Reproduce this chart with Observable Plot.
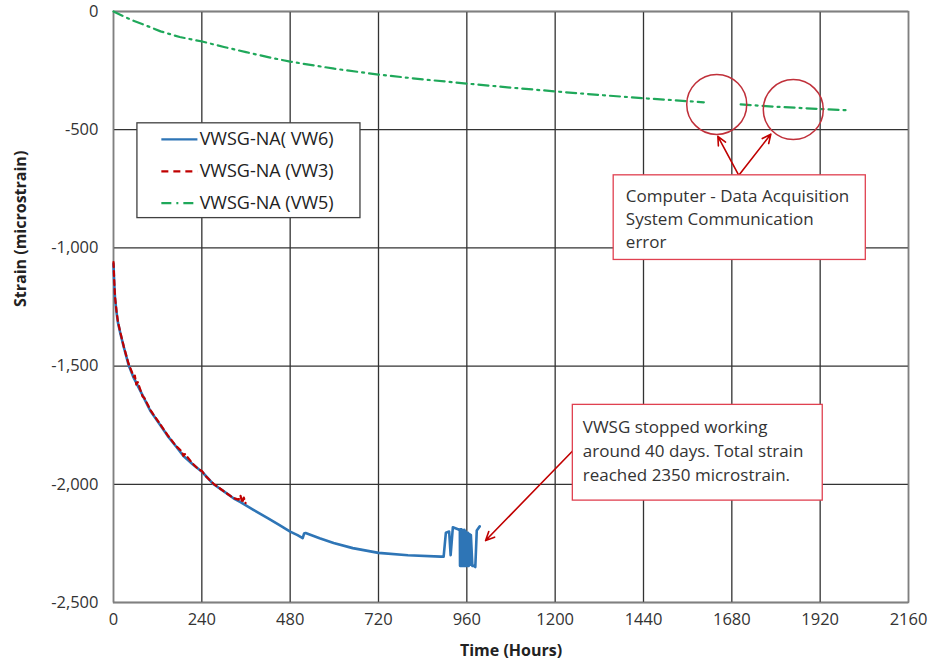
<!DOCTYPE html>
<html>
<head>
<meta charset="utf-8">
<script src="https://cdn.jsdelivr.net/npm/d3@7"></script>
<script src="https://cdn.jsdelivr.net/npm/@observablehq/plot@0.6"></script>
<style>
  html, body { margin: 0; padding: 0; background: #fff; }
  #chart { width: 930px; height: 667px; }
  svg { font-family: "Open Sans", sans-serif; overflow: visible; }
</style>
</head>
<body>
<div id="chart"></div>
<script>
// ---- Data ----
const xTicks = [0, 240, 480, 720, 960, 1200, 1440, 1680, 1920, 2160];
const yTicks = [0, -500, -1000, -1500, -2000, -2500];

const seriesNames = ["VWSG-NA( VW6)", "VWSG-NA (VW3)", "VWSG-NA (VW5)"];

// VW6 (blue, solid)
const vw6Hours = [0, 2, 4, 8, 12, 19, 28, 41, 55, 73, 100, 125, 147, 170, 190, 215, 241, 272, 300, 326, 345, 380, 419, 450, 480, 500, 514, 518, 522, 560, 598, 650, 720, 800, 889, 897, 903, 912, 916, 922, 936, 941, 941.5, 942, 942.5, 943, 943.5, 944, 944.5, 945, 945.5, 946, 946.5, 947, 947.5, 948, 948.5, 949, 949.5, 950, 950.5, 951, 951.5, 952, 952.5, 953, 953.5, 954, 954.5, 955, 955.5, 956, 956.5, 957, 957.5, 958, 958.5, 959, 960, 961, 962, 963, 965, 967, 969, 971, 975, 979, 983, 987, 995];
const vw6Strain = [-1068, -1150, -1210, -1270, -1315, -1364, -1420, -1495, -1550, -1605, -1689, -1745, -1795, -1840, -1880, -1915, -1948, -2000, -2030, -2059, -2075, -2108, -2143, -2172, -2200, -2215, -2228, -2208, -2206, -2228, -2248, -2270, -2290, -2300, -2306, -2306, -2205, -2200, -2300, -2182, -2190, -2195, -2345, -2190, -2345, -2190, -2345, -2192, -2345, -2190, -2345, -2195, -2345, -2192, -2345, -2195, -2345, -2198, -2345, -2200, -2345, -2200, -2345, -2195, -2345, -2192, -2345, -2195, -2345, -2198, -2345, -2200, -2345, -2200, -2345, -2205, -2345, -2205, -2340, -2210, -2345, -2205, -2345, -2210, -2340, -2215, -2345, -2345, -2350, -2195, -2178, -2175];

// VW3 (red, dashed)
const vw3Hours = [0, 2, 4, 8, 12, 19, 28, 41, 55, 58, 62, 66, 73, 79, 84, 100, 125, 147, 170, 186, 190, 194, 215, 230, 241, 250, 272, 300, 326, 340, 345, 350, 354, 359];
const vw3Strain = [-1060, -1140, -1205, -1265, -1312, -1360, -1418, -1490, -1545, -1540, -1578, -1568, -1600, -1628, -1635, -1685, -1742, -1792, -1838, -1862, -1880, -1872, -1912, -1935, -1945, -1965, -1998, -2030, -2058, -2065, -2048, -2078, -2056, -2080];

// VW5 (green, dash-dot) -- null marks the communication gap
const vw5Hours = [0, 24, 54, 96, 128, 180, 241, 300, 360, 420, 480, 600, 720, 840, 960, 1080, 1200, 1320, 1440, 1520, 1604, 1650, 1704, 1800, 1916, 1998];
const vw5Strain = [0, -18, -39, -64, -84, -108, -127, -150, -172, -193, -212, -242, -267, -287, -305, -322, -338, -353, -367, -375, -384, null, -393, -403, -412, -418];

// ---- Build tables ----
const vw6 = vw6Hours.map((h, i) => ({h, s: vw6Strain[i]}));
const vw3 = vw3Hours.map((h, i) => ({h, s: vw3Strain[i]}));
const vw5 = vw5Hours.map((h, i) => ({h, s: vw5Strain[i]}));

const blue = "#2E75B6", red = "#C00000", green = "#1FA85A";
const annRed = "#C0303A";
const dashRed = "5,4", dashGreen = "10,5,2,5";

// Annotation geometry in data units
const legendBox = [{x1: 65, x2: 671, y1: -473, y2: -874}];
const legendY = [-541, -676, -811];
const legendRows = seriesNames.map((name, i) => ({name, y: legendY[i]}));
const circles = [{h: 1639, s: -393}, {h: 1847, s: -415}];
const box1 = [{x1: 1359, x2: 2044, y1: -693, y2: -1051}];
const box2 = [{x1: 1248, x2: 1927, y1: -1664, y2: -2069}];
const arrows = [
  {x1: 1699, y1: -693, x2: 1642, y2: -528},
  {x1: 1699, y1: -693, x2: 1786, y2: -519},
  {x1: 1248, y1: -1858, x2: 1011, y2: -2238}
];
const box1Text = "Computer - Data Acquisition\nSystem Communication\nerror";
const box2Text = "VWSG stopped working\naround 40 days. Total strain\nreached 2350 microstrain.";

const fmt = d => d.toLocaleString("en-US");

const plot = Plot.plot({
  width: 930,
  height: 667,
  marginLeft: 113,
  marginRight: 22,
  marginTop: 11,
  marginBottom: 65,
  style: {fontFamily: "Open Sans, sans-serif", background: "#fff", overflow: "visible"},
  x: {domain: [0, 2160]},
  y: {domain: [-2500, 0]},
  marks: [
    Plot.gridX(xTicks, {stroke: "#333", strokeOpacity: 1, strokeWidth: 1.3}),
    Plot.gridY(yTicks, {stroke: "#333", strokeOpacity: 1, strokeWidth: 1.3}),
    Plot.frame({stroke: "#808080", strokeWidth: 1.5}),
    Plot.axisX(xTicks, {tickSize: 0, tickPadding: 11, fontSize: 16.5, fill: "#333", tickFormat: d => String(d), label: null}),
    Plot.axisY(yTicks, {tickSize: 0, tickPadding: 15, fontSize: 16.5, fill: "#333", tickFormat: fmt, label: null}),
    Plot.text(["Strain (microstrain)"], {frameAnchor: "left", dx: -93, rotate: -90, fontSize: 16, fontWeight: "bold", fill: "#222"}),
    Plot.text(["Time (Hours)"], {frameAnchor: "bottom", dy: 53, fontSize: 16, fontWeight: "bold", fill: "#222"}),
    // data
    Plot.line(vw5, {x: "h", y: "s", stroke: green, strokeWidth: 2.2, strokeDasharray: dashGreen}),
    Plot.line(vw6, {x: "h", y: "s", stroke: blue, strokeWidth: 2.6}),
    Plot.line(vw3, {x: "h", y: "s", stroke: red, strokeWidth: 2.2, strokeDasharray: dashRed}),
    // legend
    Plot.rect(legendBox, {x1: "x1", x2: "x2", y1: "y1", y2: "y2", fill: "#fff", stroke: "#404040", strokeWidth: 1.3}),
    Plot.link([legendRows[0]], {x1: 130, x2: 228, y1: "y", y2: "y", stroke: blue, strokeWidth: 2.4}),
    Plot.link([legendRows[1]], {x1: 130, x2: 228, y1: "y", y2: "y", stroke: red, strokeWidth: 2.2, strokeDasharray: "7,5"}),
    Plot.link([legendRows[2]], {x1: 130, x2: 228, y1: "y", y2: "y", stroke: green, strokeWidth: 2.2, strokeDasharray: dashGreen}),
    Plot.text(legendRows, {x: 234, y: "y", text: "name", textAnchor: "start", fontSize: 18, fill: "#222"}),
    // annotations
    Plot.dot(circles, {x: "h", y: "s", r: 30, stroke: annRed, strokeWidth: 1.5, fill: "none"}),
    Plot.arrow(arrows, {x1: "x1", y1: "y1", x2: "x2", y2: "y2", stroke: red, strokeWidth: 1.6, headLength: 9, headAngle: 50}),
    Plot.rect(box1, {x1: "x1", x2: "x2", y1: "y1", y2: "y2", fill: "#fff", stroke: "#E04050", strokeWidth: 1.3}),
    Plot.rect(box2, {x1: "x1", x2: "x2", y1: "y1", y2: "y2", fill: "#fff", stroke: "#E04050", strokeWidth: 1.3}),
    Plot.text([box1Text], {x: 1392, y: -735, textAnchor: "start", lineAnchor: "top", lineHeight: 1.36, fontSize: 17, fill: "#333"}),
    Plot.text([box2Text], {x: 1275, y: -1712, textAnchor: "start", lineAnchor: "top", lineHeight: 1.40, fontSize: 17, fill: "#333"})
  ]
});
document.getElementById("chart").appendChild(plot);
</script>
</body>
</html>
